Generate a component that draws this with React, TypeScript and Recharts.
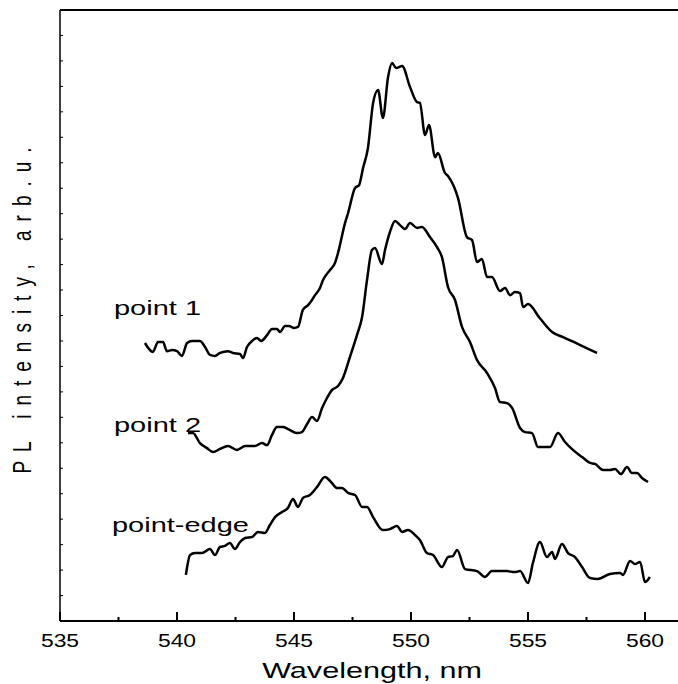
import { LineChart, Line, XAxis, YAxis, ReferenceLine } from 'recharts'

// wavelengths in nm, intensities in arb. units (one y tick = 1 unit)
const point1Wavelength = [
  538.63, 538.97, 539.19, 539.4, 539.57, 539.79, 540.0, 540.21, 540.43, 540.64, 540.98, 541.2,
  541.41, 541.62, 541.84, 542.18, 542.39, 542.69, 542.82, 542.99, 543.21, 543.42, 543.59, 543.85,
  544.06, 544.27, 544.4, 544.62, 544.79, 545.0, 545.17, 545.38, 545.6, 545.77, 545.9, 546.11,
  546.24, 546.54, 546.75, 546.88, 547.18, 547.31, 547.61, 547.78, 547.95, 548.16, 548.38, 548.59,
  548.8, 549.02, 549.19, 549.36, 549.62, 549.96, 550.26, 550.38, 550.6, 550.77, 551.03, 551.15,
  551.45, 551.58, 552.01, 552.39, 552.61, 552.82, 553.03, 553.25, 553.46, 553.8, 554.02, 554.23,
  554.44, 554.66, 554.79, 555.0, 555.5, 556.03, 556.5, 557.0, 557.5, 557.95,
]
const point1Intensity = [
  10.92, 10.57, 10.96, 10.96, 10.6, 10.64, 10.6, 10.41, 10.92, 11.0, 11.0, 10.76,
  10.45, 10.41, 10.53, 10.6, 10.53, 10.49, 10.33, 10.76, 11.0, 11.12, 11.0, 11.23,
  11.47, 11.47, 11.35, 11.59, 11.59, 11.51, 11.55, 12.22, 12.41, 12.61, 12.8, 13.08,
  13.39, 13.79, 14.06, 14.45, 15.63, 16.02, 17.01, 17.12, 17.79, 18.58, 20.35, 20.86,
  19.76, 21.37, 21.92, 21.72, 21.8, 20.97, 20.38, 20.35, 19.09, 19.48, 18.22, 18.38,
  17.6, 17.48, 16.61, 15.08, 14.96, 14.1, 14.22, 13.51, 13.51, 12.96, 13.08, 12.8,
  12.92, 12.88, 12.33, 12.45, 11.9, 11.35, 11.15, 10.94, 10.72, 10.53,
]

const point2Wavelength = [
  540.47, 540.68, 540.98, 541.28, 541.54, 541.84, 542.18, 542.56, 542.91, 543.33, 543.63, 543.85,
  544.06, 544.27, 544.53, 544.83, 545.13, 545.34, 545.56, 545.77, 545.98, 546.2, 546.41, 546.62,
  546.88, 547.09, 547.39, 547.69, 547.91, 548.12, 548.33, 548.46, 548.76, 548.89, 549.1, 549.32,
  549.53, 549.74, 549.96, 550.26, 550.47, 550.81, 551.11, 551.32, 551.58, 551.88, 552.18, 552.52,
  552.82, 553.25, 553.59, 553.8, 554.1, 554.32, 554.66, 554.87, 555.17, 555.43, 555.73, 555.94,
  556.28, 556.58, 556.92, 557.31, 557.65, 557.86, 558.21, 558.5, 558.72, 558.97, 559.23, 559.44,
  559.66, 559.87, 560.13,
]
const point2Intensity = [
  7.38, 7.38, 6.99, 6.79, 6.64, 6.76, 6.87, 6.72, 6.87, 6.87, 6.99, 6.91,
  7.31, 7.62, 7.62, 7.5, 7.38, 7.42, 7.74, 8.01, 7.86, 8.37, 8.76, 9.07,
  9.23, 9.54, 10.37, 11.23, 11.94, 13.39, 14.57, 14.65, 14.02, 14.57, 15.28, 15.71,
  15.55, 15.4, 15.63, 15.44, 15.48, 15.08, 14.69, 14.3, 13.12, 12.61, 11.55, 10.96,
  10.25, 9.74, 9.15, 8.6, 8.56, 8.37, 7.58, 7.42, 7.38, 6.83, 6.83, 6.83,
  7.38, 7.03, 6.72, 6.44, 6.21, 6.17, 5.93, 5.93, 5.97, 5.77, 6.05, 5.81,
  5.81, 5.62, 5.46,
]

const edgeWavelength = [
  540.38, 540.56, 540.77, 541.07, 541.41, 541.62, 541.84, 542.05, 542.26, 542.48, 542.69, 542.91,
  543.21, 543.46, 543.76, 543.97, 544.19, 544.49, 544.74, 544.96, 545.17, 545.38, 545.68, 545.98,
  546.32, 546.62, 546.84, 547.05, 547.31, 547.61, 547.91, 548.12, 548.38, 548.8, 549.1, 549.4,
  549.62, 549.87, 550.17, 550.38, 550.68, 550.94, 551.32, 551.58, 551.79, 551.97, 552.31, 552.82,
  553.16, 553.46, 554.1, 554.44, 554.66, 555.0, 555.21, 555.51, 555.81, 556.03, 556.15, 556.45,
  556.71, 557.01, 557.31, 557.65, 557.99, 558.5, 558.93, 559.06, 559.36, 559.57, 559.79, 560.0,
  560.21,
]
const edgeIntensity = [
  1.81, 2.59, 2.67, 2.67, 2.83, 2.59, 2.91, 2.95, 3.06, 2.83, 3.1, 3.26,
  3.3, 3.5, 3.46, 3.77, 4.08, 4.28, 4.44, 4.79, 4.48, 4.83, 4.95, 5.26,
  5.66, 5.42, 5.22, 5.22, 5.03, 4.95, 4.48, 4.48, 4.08, 3.57, 3.61, 3.73,
  3.5, 3.57, 3.38, 3.18, 2.67, 2.59, 2.12, 2.51, 2.55, 2.79, 2.04, 1.96,
  1.73, 1.96, 1.96, 1.92, 1.96, 1.49, 2.28, 3.1, 2.51, 2.71, 2.44, 3.02,
  2.67, 2.51, 2.12, 1.69, 1.65, 1.85, 1.89, 1.81, 2.36, 2.24, 2.32, 1.53,
  1.73,
]

const xTicks = [535, 537.5, 540, 542.5, 545, 547.5, 550, 552.5, 555, 557.5, 560]
const yTicks = Array.from({ length: 25 }, (_, i) => i)

const zip = (nm: number[], v: number[]) => nm.map((x, i) => ({ nm: x, v: v[i] }))
const point1 = zip(point1Wavelength, point1Intensity)
const point2 = zip(point2Wavelength, point2Intensity)
const edge = zip(edgeWavelength, edgeIntensity)

const FONT = '"Liberation Sans", Arial, sans-serif'

function XTick(props: any) {
  const { x, y, payload } = props
  const major = payload.value % 5 === 0
  return (
    <g>
      <line x1={x} y1={y} x2={x} y2={y - (major ? 9 : 4)} stroke="#000" strokeWidth={2} />
      {major && (
        <text
          transform={`translate(${x},${y + 26}) scale(1.27,1)`}
          textAnchor="middle"
          fontSize={18}
          fontFamily={FONT}
          fill="#000"
        >
          {payload.value}
        </text>
      )}
    </g>
  )
}

function YTick(props: any) {
  const { x, y } = props
  return <line x1={x} y1={y} x2={x + 3} y2={y} stroke="#000" strokeWidth={1} />
}

export default function App() {
  return (
    <div style={{ position: 'relative', width: 678, height: 684, background: '#fff' }}>
      <style>{'body{margin:0}'}</style>
      <LineChart width={678} height={684} margin={{ top: 10, right: 0, bottom: 0, left: 0 }}>
        <XAxis
          dataKey="nm"
          type="number"
          domain={[535, 561.41]}
          ticks={xTicks}
          interval={0}
          allowDataOverflow
          height={63}
          tickSize={0}
          tickMargin={0}
          tickLine={false}
          tick={<XTick />}
          axisLine={{ stroke: '#000', strokeWidth: 2 }}
        />
        <YAxis
          type="number"
          domain={[0, 24]}
          ticks={yTicks}
          interval={0}
          width={60}
          tickSize={0}
          tickMargin={0}
          tickLine={false}
          tick={<YTick />}
          axisLine={{ stroke: '#000', strokeWidth: 1.5 }}
        />
        <ReferenceLine y={24} stroke="#000" strokeWidth={2} />
        <Line data={point1} dataKey="v" type="monotone" stroke="#000" strokeWidth={2.5} dot={false} isAnimationActive={false} />
        <Line data={point2} dataKey="v" type="monotone" stroke="#000" strokeWidth={2.5} dot={false} isAnimationActive={false} />
        <Line data={edge} dataKey="v" type="monotone" stroke="#000" strokeWidth={2.5} dot={false} isAnimationActive={false} />
      </LineChart>
      <svg
        width={678}
        height={684}
        style={{ position: 'absolute', left: 0, top: 0, pointerEvents: 'none' }}
        fontFamily={FONT}
        fill="#000"
      >
        <text transform="translate(114,315) scale(1.45,1)" fontSize={20}>point 1</text>
        <text transform="translate(114,432) scale(1.45,1)" fontSize={20}>point 2</text>
        <text transform="translate(112,532) scale(1.45,1)" fontSize={20}>point-edge</text>
        <text transform="translate(372,678) scale(1.39,1)" fontSize={22} textAnchor="middle">
          Wavelength, nm
        </text>
        <text
          transform="translate(31,306) rotate(-90) scale(1,1.35)"
          fontSize={19}
          letterSpacing={9}
          textAnchor="middle"
        >
          PL intensity, arb.u.
        </text>
      </svg>
    </div>
  )
}
